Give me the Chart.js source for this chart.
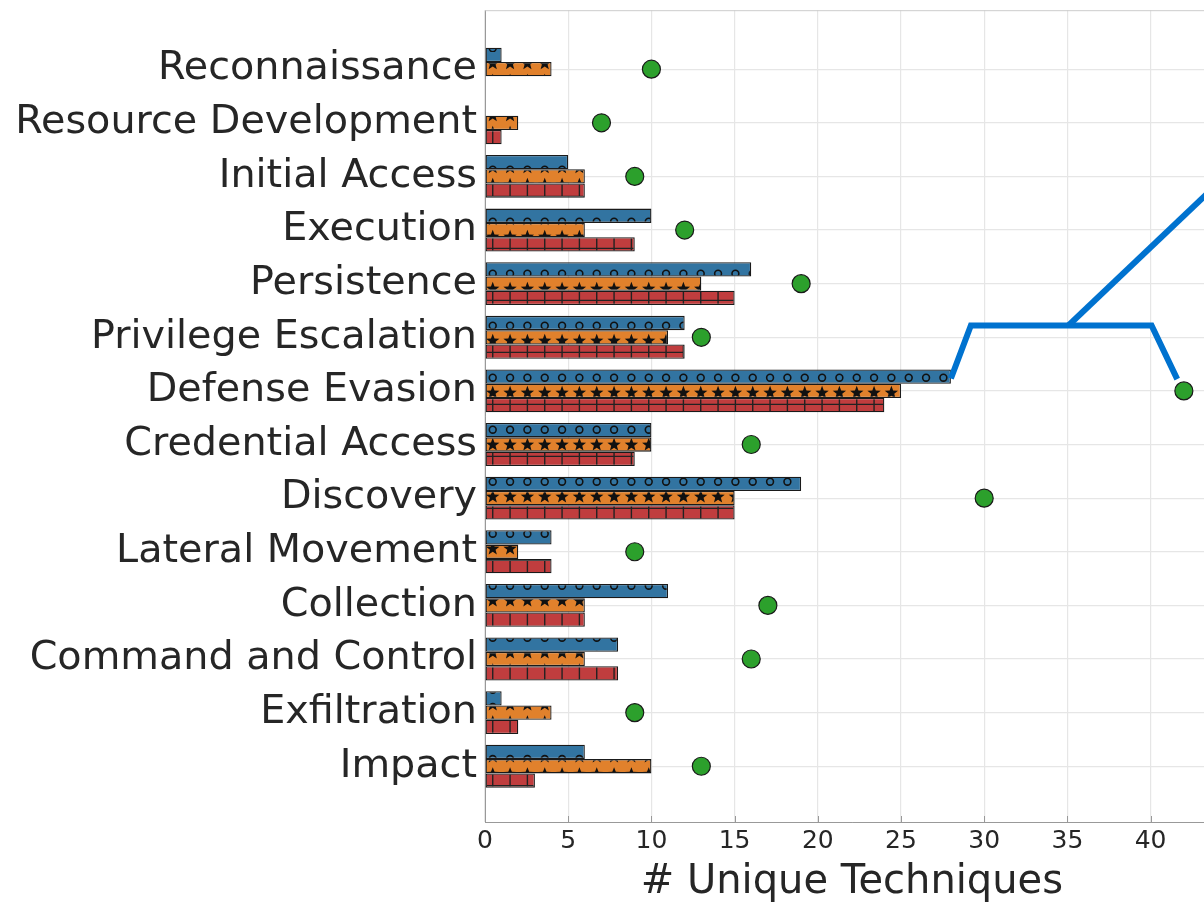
<!DOCTYPE html>
<html>
<head>
<meta charset="utf-8">
<script src="https://cdn.jsdelivr.net/npm/chart.js@4/dist/chart.umd.min.js"></script>
<style>
  html, body { margin: 0; padding: 0; background: #fff; overflow: hidden; }
  #wrap { width: 1204px; height: 904px; overflow: hidden; }
</style>
</head>
<body>
<div id="wrap"><canvas id="c" width="1229" height="904"></canvas></div>
<script>
// tactics, top to bottom
const tactics = ['Reconnaissance', 'Resource Development', 'Initial Access', 'Execution',
  'Persistence', 'Privilege Escalation', 'Defense Evasion', 'Credential Access', 'Discovery',
  'Lateral Movement', 'Collection', 'Command and Control', 'Exfiltration', 'Impact'];

// bar series (blue / orange / red) and the green dots
const seriesA = [1, 0, 5, 10, 16, 12, 28, 10, 19, 4, 11, 8, 1, 6];
const seriesB = [4, 2, 6, 6, 13, 11, 25, 10, 15, 2, 6, 6, 4, 10];
const seriesC = [0, 1, 6, 9, 15, 12, 24, 9, 15, 4, 6, 8, 2, 3];
const totals  = [10, 7, 9, 12, 19, 13, 42, 16, 30, 9, 17, 16, 9, 13];

const xTicks = [0, 5, 10, 15, 20, 25, 30, 35, 40];

// blue annotation bracket (x in techniques, y in row index)
const bracketX = [28, 29.2, 40.06, 41.6];
const bracketY = [5.77, 4.78, 4.78, 5.78];
const stemX = [35.06, 45];
const stemY = [4.78, 1.85];

const ctx = document.getElementById('c').getContext('2d');
const S = 52 / 3;

function hatch(bg, draw) {
  const pc = document.createElement('canvas');
  pc.width = 52; pc.height = 52;
  const g = pc.getContext('2d');
  g.fillStyle = bg;
  g.fillRect(0, 0, 52, 52);
  draw(g);
  return ctx.createPattern(pc, 'repeat');
}

const circlePat = hatch('#3274a1', g => {
  g.strokeStyle = '#111';
  g.lineWidth = 1.6;
  for (let i = 0; i < 3; i++) for (let j = 0; j < 3; j++) {
    g.beginPath();
    g.arc(7.4 + i * S, 13.7 + j * S, 3.4, 0, Math.PI * 2);
    g.stroke();
  }
});

const starPat = hatch('#e1812c', g => {
  g.fillStyle = '#111';
  for (let i = 0; i < 3; i++) for (let j = 0; j < 3; j++) {
    const cx = 7.4 + i * S, cy = 11.5 + j * S;
    g.beginPath();
    for (let k = 0; k < 10; k++) {
      const r = k % 2 ? 3 : 7;
      const a = -Math.PI / 2 + k * Math.PI / 5;
      g.lineTo(cx + r * Math.cos(a), cy + r * Math.sin(a));
    }
    g.closePath();
    g.fill();
  }
});

const gridPat = hatch('#c03d3e', g => {
  g.strokeStyle = '#222';
  g.lineWidth = 1.4;
  for (let i = 0; i < 3; i++) {
    g.beginPath();
    g.moveTo(7.4 + i * S, 0); g.lineTo(7.4 + i * S, 52);
    g.stroke();
    g.beginPath();
    g.moveTo(0, 5.7 + i * S); g.lineTo(52, 5.7 + i * S);
    g.stroke();
  }
});

const pts = arr => arr.map((v, i) => ({ x: v, y: i }));
const xy = (xs, ys) => xs.map((v, i) => ({ x: v, y: ys[i] }));

const barStyle = { borderColor: '#1a1a1a', borderWidth: 1.3, borderSkipped: false,
  categoryPercentage: 0.8, barPercentage: 1.0 };

// spines and inward ticks like the original
const frame = {
  id: 'frame',
  afterDraw(chart) {
    const { ctx: c, chartArea: a, scales } = chart;
    c.save();
    c.strokeStyle = '#cccccc';
    c.lineWidth = 1;
    c.beginPath();
    c.moveTo(a.left, a.top + 0.5);
    c.lineTo(a.right, a.top + 0.5);
    c.stroke();
    c.strokeStyle = '#999999';
    scales.x.ticks.forEach(t => {
      const px = Math.round(scales.x.getPixelForValue(t.value)) + 0.5;
      c.beginPath();
      c.moveTo(px, a.bottom);
      c.lineTo(px, a.bottom - 6);
      c.stroke();
    });
    c.restore();
  }
};

new Chart(ctx, {
  type: 'bar',
  data: {
    datasets: [
      { type: 'line', data: pts(totals), showLine: false, pointRadius: 9, pointHoverRadius: 9,
        pointBackgroundColor: '#2ca02c', pointBorderColor: '#1a1a1a', pointBorderWidth: 1.2 },
      { type: 'line', data: xy(bracketX, bracketY), borderColor: '#0072cf', borderWidth: 6,
        pointRadius: 0, tension: 0, fill: false, borderJoinStyle: 'miter' },
      { type: 'line', data: xy(stemX, stemY), borderColor: '#0072cf', borderWidth: 6,
        pointRadius: 0, tension: 0, fill: false },
      { label: 'A', data: pts(seriesA), backgroundColor: circlePat, ...barStyle },
      { label: 'B', data: pts(seriesB), backgroundColor: starPat, ...barStyle },
      { label: 'C', data: pts(seriesC), backgroundColor: gridPat, ...barStyle }
    ]
  },
  options: {
    indexAxis: 'y',
    responsive: false,
    animation: false,
    layout: { padding: { left: 0, top: 2, right: 0, bottom: 0 } },
    plugins: { legend: { display: false }, tooltip: { enabled: false } },
    scales: {
      y: {
        type: 'linear',
        offset: false,
        min: -1.1,
        max: 14.04,
        reverse: true,
        afterBuildTicks: s => { s.ticks = tactics.map((_, i) => ({ value: i })); },
        afterFit: s => { s.width = 485; s.paddingTop = 0; s.paddingBottom = 0; },
        ticks: {
          callback: v => tactics[v],
          font: { family: 'DejaVu Sans', size: 39.7 },
          color: '#262626',
          padding: 8
        },
        grid: { color: '#e6e6e6', lineWidth: 1.2, drawTicks: false, offset: false },
        border: { display: true, color: '#999999', width: 1 }
      },
      x: {
        type: 'linear',
        min: 0,
        max: 44.1,
        afterBuildTicks: s => { s.ticks = xTicks.map(v => ({ value: v })); },
        afterFit: s => { s.height = 82; s.paddingLeft = 0; s.paddingRight = 0; },
        ticks: {
          font: { family: 'DejaVu Sans', size: 25 },
          color: '#262626',
          padding: 4
        },
        grid: { color: '#e6e6e6', lineWidth: 1.2, drawTicks: false },
        border: { display: true, color: '#999999', width: 1 },
        title: {
          display: true,
          text: '# Unique Techniques',
          font: { family: 'DejaVu Sans', size: 40, lineHeight: 1.2 },
          color: '#262626',
          padding: { top: 0, bottom: -3 }
        }
      }
    }
  },
  plugins: [frame]
});
</script>
</body>
</html>
